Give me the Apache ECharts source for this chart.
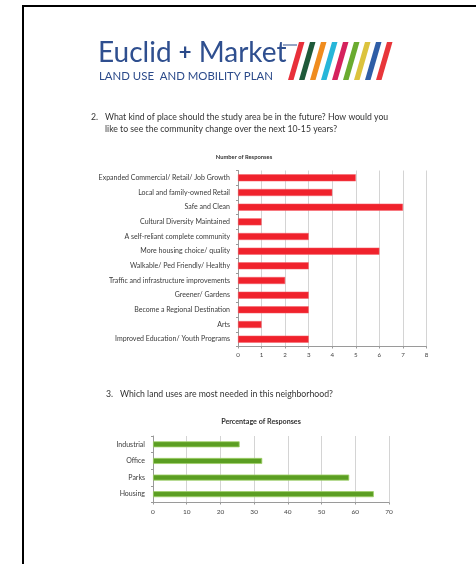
<!DOCTYPE html>
<html>
<head>
<meta charset="utf-8">
<script src="https://cdn.jsdelivr.net/npm/echarts@6/dist/echarts.min.js"></script>
<style>
html,body{margin:0;padding:0;background:#fff;}
#main{width:476px;height:564px;}
</style>
</head>
<body>
<div id="main"></div>
<script>
// Chart 1: Number of Responses
const placeCategories = [
  'Expanded Commercial/ Retail/ Job Growth',
  'Local and family-owned Retail',
  'Safe and Clean',
  'Cultural Diversity Maintained',
  'A self-reliant complete community',
  'More housing choice/ quality',
  'Walkable/ Ped Friendly/ Healthy',
  'Traffic and infrastructure improvements',
  'Greener/ Gardens',
  'Become a Regional Destination',
  'Arts',
  'Improved Education/ Youth Programs'
];
const placeValues = [5, 4, 7, 1, 3, 6, 3, 2, 3, 3, 1, 3];
const placeTicks = [0, 1, 2, 3, 4, 5, 6, 7, 8];

// Chart 2: Percentage of Responses
const landUseCategories = ['Industrial', 'Office', 'Parks', 'Housing'];
const landUseValues = [25.7, 32.4, 58.2, 65.5];
const landUseTicks = [0, 10, 20, 30, 40, 50, 60, 70];

const FONT = 'Lato, "Open Sans", sans-serif';
const stripeColors = ['#e8303a','#1f5a3a','#f08c1e','#27b6d9','#d5225c','#6aab2f','#dcc33d','#2f5ea6','#e8363a'];

const stripes = stripeColors.map((c, i) => ({
  type: 'polygon',
  shape: { points: [[299 + 11*i, 42], [304.5 + 11*i, 42], [293.5 + 11*i, 80], [288 + 11*i, 80]] },
  style: { fill: c }
}));

const chart = echarts.init(document.getElementById('main'), null, { renderer: 'canvas' });
chart.setOption({
  backgroundColor: '#ffffff',
  animation: false,
  graphic: [
    { type: 'rect', shape: { x: 22, y: 5, width: 460, height: 2 }, style: { fill: '#000' } },
    { type: 'rect', shape: { x: 22, y: 5, width: 2, height: 570 }, style: { fill: '#000' } },
    { type: 'text', x: 98, y: 39, style: {
        text: '{a|Euclid }{b|+}{a| Market}', fill: '#2b4a8a', fontFamily: FONT,
        rich: { a: { fontSize: 28, fontFamily: FONT, fill: '#2f4f8f' }, b: { fontSize: 22, fontWeight: 'bold', fontFamily: FONT, fill: '#2b4a8a' } }
    } },
    { type: 'line', shape: { x1: 283, y1: 45, x2: 297, y2: 45 }, style: { stroke: '#2b4a8a', lineWidth: 1 } },
    { type: 'text', x: 99, y: 71, style: { text: 'LAND USE  AND MOBILITY PLAN', fill: '#2b4a8a', fontFamily: FONT, fontSize: 11.4 } },
    ...stripes,
    { type: 'text', x: 91, y: 113, style: { text: '2.', fill: '#333', fontFamily: FONT, fontSize: 8.7 } },
    { type: 'text', x: 105, y: 113, style: { text: 'What kind of place should the study area be in the future? How would you', fill: '#333', fontFamily: FONT, fontSize: 8.7 } },
    { type: 'text', x: 105, y: 124.5, style: { text: 'like to see the community change over the next 10-15 years?', fill: '#333', fontFamily: FONT, fontSize: 8.7 } },
    { type: 'text', x: 106, y: 390, style: { text: '3.', fill: '#333', fontFamily: FONT, fontSize: 8.7 } },
    { type: 'text', x: 120, y: 390, style: { text: 'Which land uses are most needed in this neighborhood?', fill: '#333', fontFamily: FONT, fontSize: 8.7 } },
    { type: 'text', x: 244, y: 154, style: { text: 'Number of Responses', fill: '#333', fontFamily: FONT, fontSize: 5.8, fontWeight: 'bold', align: 'center' } },
    { type: 'text', x: 261, y: 418, style: { text: 'Percentage of Responses', fill: '#333', fontFamily: FONT, fontSize: 7.2, fontWeight: 'bold', align: 'center' } }
  ],
  grid: [
    { left: 238, right: 49.5, top: 170.5, bottom: 217.5, containLabel: false },
    { left: 153, right: 87, top: 436, bottom: 61.5, containLabel: false }
  ],
  xAxis: [
    { gridIndex: 0, type: 'value', min: 0, max: 8, interval: 1,
      axisLine: { show: true, lineStyle: { color: '#9a9a9a' } },
      axisTick: { show: true, length: 2, lineStyle: { color: '#9a9a9a' } },
      splitLine: { show: true, lineStyle: { color: '#d4d4d4' } },
      axisLabel: { fontFamily: FONT, fontSize: 6.2, color: '#444', margin: 6,
        formatter: v => placeTicks.includes(v) ? String(v) : '' } },
    { gridIndex: 1, type: 'value', min: 0, max: 70, interval: 10,
      axisLine: { show: true, lineStyle: { color: '#9a9a9a' } },
      axisTick: { show: true, length: 2, lineStyle: { color: '#9a9a9a' } },
      splitLine: { show: true, lineStyle: { color: '#d4d4d4' } },
      axisLabel: { fontFamily: FONT, fontSize: 6.5, color: '#444', margin: 6,
        formatter: v => landUseTicks.includes(v) ? String(v) : '' } }
  ],
  yAxis: [
    { gridIndex: 0, type: 'category', data: placeCategories, inverse: true,
      axisLine: { show: true, lineStyle: { color: '#9a9a9a' } },
      axisTick: { show: true, length: 2, lineStyle: { color: '#9a9a9a' } },
      axisLabel: { fontFamily: FONT, fontSize: 7, color: '#3a3a3a', margin: 8 } },
    { gridIndex: 1, type: 'category', data: landUseCategories, inverse: true,
      axisLine: { show: true, lineStyle: { color: '#9a9a9a' } },
      axisTick: { show: true, length: 2, lineStyle: { color: '#9a9a9a' } },
      axisLabel: { fontFamily: FONT, fontSize: 7, color: '#3a3a3a', margin: 8 } }
  ],
  series: [
    { type: 'bar', xAxisIndex: 0, yAxisIndex: 0, data: placeValues, barWidth: 7,
      itemStyle: { color: '#f0222c', borderColor: '#f56068', borderWidth: 0.5 } },
    { type: 'bar', xAxisIndex: 1, yAxisIndex: 1, data: landUseValues, barWidth: 6,
      itemStyle: { color: '#5b9e22', borderColor: '#9fd06a', borderWidth: 0.8 } }
  ]
});
</script>
</body>
</html>
